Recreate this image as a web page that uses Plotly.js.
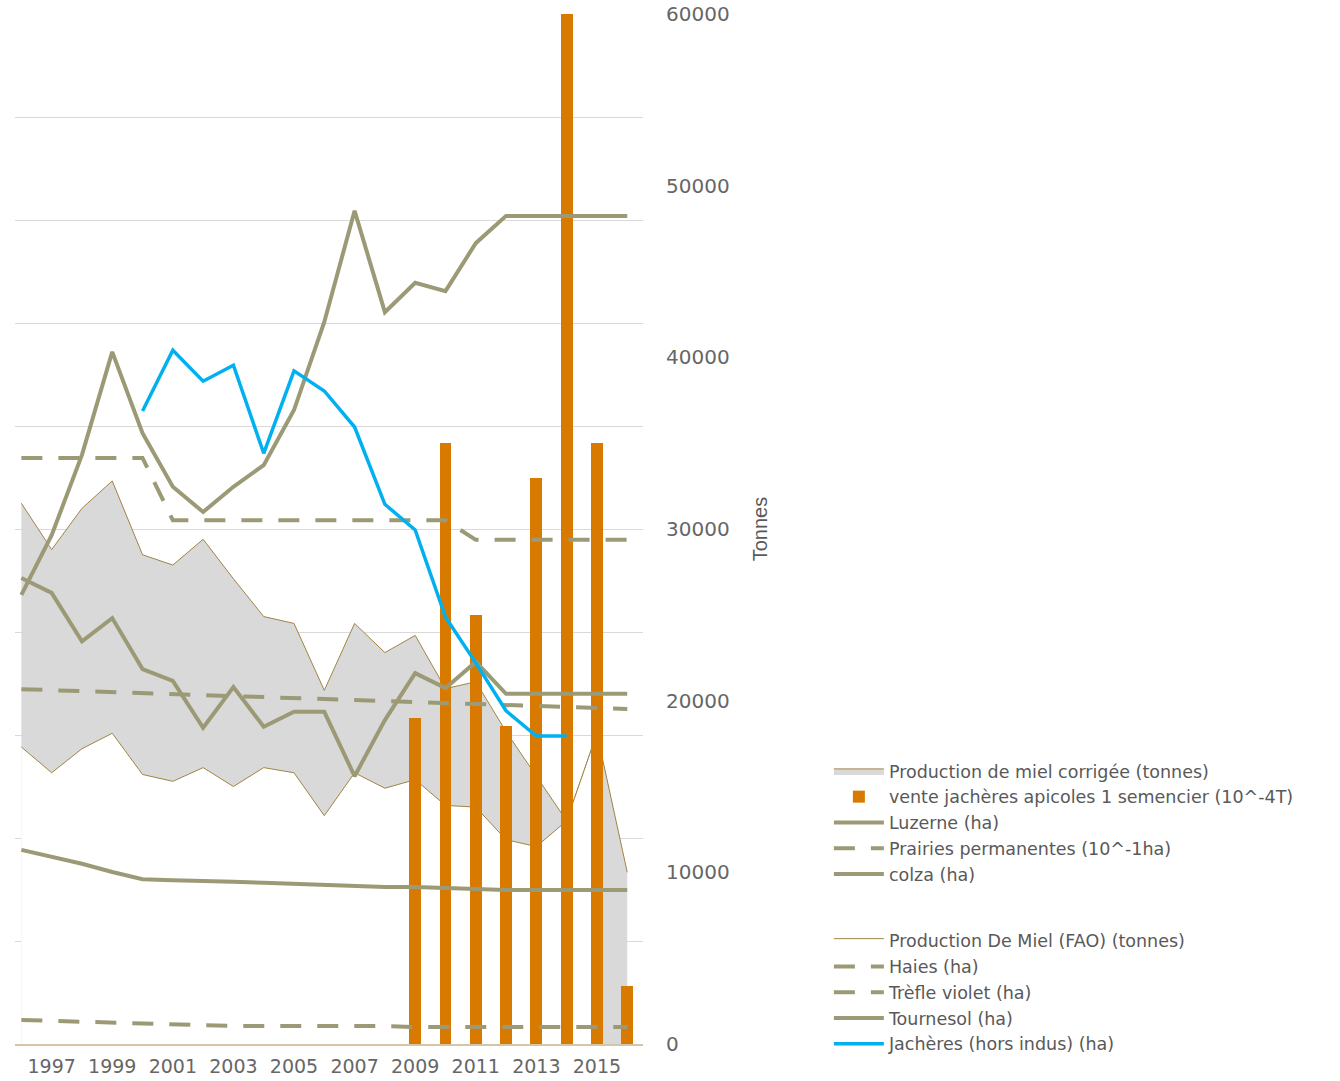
<!DOCTYPE html>
<html>
<head>
<meta charset="utf-8">
<script src="https://cdn.plot.ly/plotly-3.0.1.min.js"></script>
<style>html,body{margin:0;padding:0;background:#fff;}#chart{width:1340px;height:1081px;}</style>
</head>
<body>
<div id="chart"></div>
<script>
// ---- Data ----
const years = [1996,1997,1998,1999,2000,2001,2002,2003,2004,2005,2006,2007,2008,2009,2010,2011,2012,2013,2014,2015,2016];
const yearsFAO = [1996,1997,1998,1999,2000,2001,2002,2003,2004,2005,2006,2007,2008,2009,2010,2011,2012,2013,2014,2015];
const yearsJacheres = [2000,2001,2002,2003,2004,2005,2006,2007,2008,2009,2010,2011,2012,2013,2014];
const yearsBars = [2009,2010,2011,2012,2013,2014,2015,2016];

// tonnes (right axis)
const mielCorrigee = [31500,28800,31200,32800,28500,27900,29400,27100,24900,24500,20600,24500,22800,23800,20700,21100,18200,15600,13000,18100,10000];
const mielFAO = [17300,15800,17200,18100,15700,15300,16100,15000,16100,15800,13300,15800,14900,15400,13900,13800,11900,11500,13000,18100];
const venteJacheres = [19000,35000,25000,18500,33000,60000,35000,3400];

// hectares (hidden left axis)
const luzerne = [377000,363000,350000,334000,320000,318000,317000,315000,313000,311000,309000,307000,305000,305000,303000,301000,299000,299000,299000,299000,299000];
const prairies = [1138000,1138000,1138000,1138000,1138000,1017000,1017000,1017000,1017000,1017000,1017000,1017000,1017000,1017000,1017000,979000,979000,979000,979000,979000,979000];
const colza = [872000,988000,1144000,1344000,1186000,1082000,1033000,1082000,1124000,1231000,1402000,1618000,1421000,1478000,1462000,1555000,1608000,1608000,1608000,1608000,1608000];
const haies = [689000,687000,685000,683500,681500,679500,677500,675500,674000,672000,670000,668000,666000,664000,662000,660000,658500,656500,654500,652500,650500];
const trefle = [46600,44700,42700,40800,38800,36900,35000,35000,35000,35000,35000,35000,35000,33000,33000,33000,33000,33000,33000,33000,33000];
const tournesol = [905000,876000,782000,827000,728000,705000,614000,693000,616000,645000,645000,520000,629000,720000,691000,742000,680000,680000,680000,680000,680000];
const jacheres = [1229000,1347000,1287000,1318000,1147000,1307000,1268000,1198000,1048000,998000,829000,740000,647000,598000,598000];

const tickYears = [1997,1999,2001,2003,2005,2007,2009,2011,2013,2015];

// ---- Styles ----
const OLIVE = '#9C9A76';
const BORDER = '#A08444';
const DASH = '21px,16px';

const traces = [
  {x: years, y: mielCorrigee, name: 'Production de miel corrigée (tonnes)', type: 'scatter', mode: 'lines',
   fill: 'tozeroy', fillcolor: '#D9D9D9', line: {color: BORDER, width: 1}, yaxis: 'y',
   legendgroup: 'a', legendrank: 1},
  {x: yearsFAO, y: mielFAO, name: 'Production De Miel (FAO) (tonnes)', type: 'scatter', mode: 'lines',
   fill: 'tozeroy', fillcolor: '#FFFFFF', line: {color: BORDER, width: 1}, yaxis: 'y',
   legendgroup: 'b', legendrank: 6},
  {x: yearsBars, y: venteJacheres, name: 'vente jachères apicoles 1 semencier (10^-4T)', type: 'bar',
   width: 0.39, marker: {color: '#D97A00', line: {width: 0}}, yaxis: 'y2',
   legendgroup: 'a', legendrank: 2},
  {x: years, y: luzerne, name: 'Luzerne (ha)', type: 'scatter', mode: 'lines',
   line: {color: OLIVE, width: 4}, yaxis: 'y3', legendgroup: 'a', legendrank: 3},
  {x: years, y: prairies, name: 'Prairies permanentes (10^-1ha)', type: 'scatter', mode: 'lines',
   line: {color: OLIVE, width: 4, dash: DASH}, yaxis: 'y3', legendgroup: 'a', legendrank: 4},
  {x: years, y: colza, name: 'colza (ha)', type: 'scatter', mode: 'lines',
   line: {color: OLIVE, width: 4}, yaxis: 'y3', legendgroup: 'a', legendrank: 5},
  {x: years, y: haies, name: 'Haies (ha)', type: 'scatter', mode: 'lines',
   line: {color: OLIVE, width: 4, dash: DASH}, yaxis: 'y3', legendgroup: 'b', legendrank: 7},
  {x: years, y: trefle, name: 'Trèfle violet (ha)', type: 'scatter', mode: 'lines',
   line: {color: OLIVE, width: 4, dash: DASH}, yaxis: 'y3', legendgroup: 'b', legendrank: 8},
  {x: years, y: tournesol, name: 'Tournesol (ha)', type: 'scatter', mode: 'lines',
   line: {color: OLIVE, width: 4}, yaxis: 'y3', legendgroup: 'b', legendrank: 9},
  {x: yearsJacheres, y: jacheres, name: 'Jachères (hors indus) (ha)', type: 'scatter', mode: 'lines',
   line: {color: '#00B0F0', width: 3.5}, yaxis: 'y3', legendgroup: 'b', legendrank: 10}
];

const layout = {
  width: 1340, height: 1081,
  margin: {l: 15, r: 697, t: 14, b: 37},
  paper_bgcolor: '#FFFFFF', plot_bgcolor: '#FFFFFF',
  showlegend: true,
  font: {family: 'DejaVu Sans, sans-serif', color: '#595959'},
  xaxis: {
    range: [1995.79, 2016.52], tickvals: tickYears, ticktext: tickYears.map(String),
    showgrid: false, zeroline: false, showline: true, linecolor: '#D6C6A6', linewidth: 1.5,
    ticks: '', ticklabelstandoff: 5, tickfont: {size: 19, color: '#666666', family: 'DejaVu Sans'},
    automargin: false
  },
  yaxis: {
    side: 'right', range: [0, 60000], dtick: 10000, tick0: 0, tickformat: 'd',
    showgrid: false, zeroline: false, showline: false, ticks: '',
    ticklabelstandoff: 22, tickfont: {size: 20, color: '#666666', family: 'DejaVu Sans'},
    title: {text: 'Tonnes', font: {size: 20, color: '#595959', family: 'Liberation Sans'}, standoff: 24},
    automargin: false
  },
  yaxis2: {overlaying: 'y', side: 'right', range: [0, 60000], visible: false},
  yaxis3: {
    overlaying: 'y', side: 'left', range: [0, 2000000], dtick: 200000, tick0: 0,
    showgrid: true, gridcolor: '#D9D9D9', gridwidth: 1, zeroline: false,
    showticklabels: false, showline: false, ticks: ''
  },
  legend: {
    x: 1.296, xanchor: 'left', y: 0.2825, yanchor: 'top',
    traceorder: 'grouped', tracegroupgap: 41, itemwidth: 50,
    bgcolor: 'rgba(0,0,0,0)',
    font: {size: 17.5, color: '#595959', family: 'DejaVu Sans'}
  },
  bargap: 0
};

Plotly.newPlot('chart', traces, layout, {staticPlot: true, displayModeBar: false});
</script>
</body>
</html>
